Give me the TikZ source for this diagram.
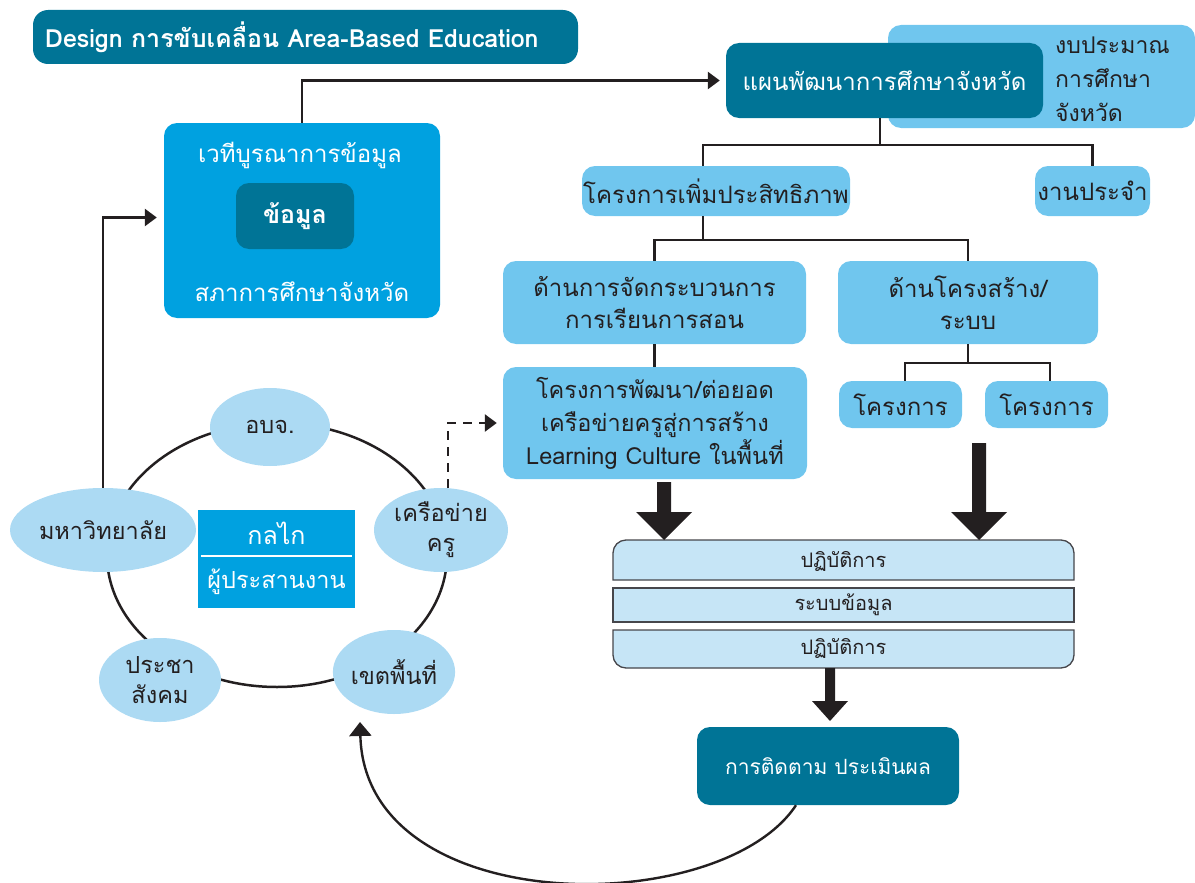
\documentclass[tikz,border=0pt]{standalone}
\usepackage{fontspec}
\setmainfont[Script=Thai]{Loma}
\usetikzlibrary{arrows.meta,calc,shapes.geometric}
\definecolor{cTeal}{RGB}{0,116,150}
\definecolor{cBlue}{RGB}{0,161,224}
\definecolor{cLight}{RGB}{112,198,238}
\definecolor{cEll}{RGB}{172,218,243}
\definecolor{cPale}{RGB}{198,229,246}
\definecolor{cInk}{RGB}{35,31,32}
\definecolor{cGray}{RGB}{70,70,75}
\newcommand{\fsz}[1]{\fontsize{#1}{#1}\selectfont}
\begin{document}
\begin{tikzpicture}[x=1pt,y=-1pt,
  box/.style={rectangle, rounded corners=13pt, inner sep=0pt, align=center, font=\fontsize{24}{32}\selectfont},
  lbox/.style={box, fill=cLight, text=cInk},
  dbox/.style={box, fill=cTeal, text=white},
  ell/.style={ellipse, fill=cEll, text=cInk, inner sep=0pt, align=center, font=\fontsize{23.5}{30}\selectfont},
  conn/.style={draw=cInk, line width=2.6pt},
  tip/.style={-{Triangle[width=17pt,length=12pt]}},
  rowst/.style={fill=cPale, draw=cGray, line width=1.3pt},
  txt/.style={inner sep=0pt, align=center, font=\fontsize{24}{32}\selectfont}
]
\useasboundingbox (0,0) rectangle (1195,883);

% title
\node[dbox, rounded corners=15pt, minimum width=545pt, minimum height=54pt,
      text width=521pt, align=left, font=\fsz{25}\bfseries] (title) at (305.5,37) {Design การขับเคลื่อน Area-Based Education};

% data forum
\node[box, fill=cBlue, minimum width=276pt, minimum height=195pt] (data) at (302,220.5) {};
\node[txt, text=white] (dtop) at (300,155) {เวทีบูรณาการข้อมูล};
\node[dbox, minimum width=118pt, minimum height=66pt, font=\fsz{25}\bfseries] (dinner) at (295,216) {ข้อมูล};
\node[txt, text=white] (dbot) at (302,292) {สภาการศึกษาจังหวัด};

% budget and plan
\node[lbox, minimum width=307pt, minimum height=103pt] (budget) at (1041.5,76.5) {};
\node[txt, anchor=west, align=left, text=cInk, font=\fontsize{23}{34}\selectfont] (budtxt) at (1055,79) {งบประมาณ\\การศึกษา\\จังหวัด};
\node[dbox, minimum width=317pt, minimum height=75pt] (plan) at (884.5,80.5) {แผนพัฒนาการศึกษาจังหวัด};

% hierarchy
\node[lbox, minimum width=268pt, minimum height=50pt] (eff) at (716,191) {โครงการเพิ่มประสิทธิภาพ};
\node[lbox, minimum width=115pt, minimum height=50pt] (routine) at (1092.5,191) {งานประจำ};
\node[lbox, minimum width=303pt, minimum height=83pt] (learn) at (654.5,302.5) {ด้านการจัดกระบวนการ\\การเรียนการสอน};
\node[lbox, minimum width=260pt, minimum height=83pt] (struct) at (968,302.5) {ด้านโครงสร้าง/\\ระบบ};
\node[lbox, minimum width=304pt, minimum height=112pt, font=\fontsize{23.5}{33}\selectfont] (proj) at (655,423) {โครงการพัฒนา/ต่อยอด\\เครือข่ายครูสู่การสร้าง\\Learning Culture ในพื้นที่};
\node[lbox, minimum width=123pt, minimum height=47pt] (p1) at (900.5,404.5) {โครงการ};
\node[lbox, minimum width=123pt, minimum height=47pt] (p2) at (1046.5,404.5) {โครงการ};

\coordinate (plansplit) at (880,145);
\coordinate (effsplit) at (703,240);
\coordinate (structsplit) at (968,363);
\draw[conn] (plansplit |- plan.south) -- (plansplit);
\draw[conn] (plansplit) -| (703,166);
\draw[conn] (plansplit) -| (routine.north);
\draw[conn] (effsplit |- eff.south) -- (effsplit);
\draw[conn] (effsplit) -| (learn.north);
\draw[conn] (effsplit) -| (struct.north);
\draw[conn] (learn.south) -- (learn.south |- proj.north);
\draw[conn] (struct.south) -- (structsplit);
\draw[conn] (structsplit) -| (905,381);
\draw[conn] (structsplit) -| (1050,381);

% stack
\draw[rowst] (613,580) [rounded corners=13pt] -- (613,540) -- (1074,540) [sharp corners] -- (1074,580) -- cycle;
\draw[rowst] (613,588) rectangle (1074,622);
\draw[rowst] (613,630) -- (1074,630) [rounded corners=13pt] -- (1074,668) -- (613,668) [sharp corners] -- cycle;
\node[txt, text=cInk, font=\fsz{20}] (row1) at (843.5,561) {ปฏิบัติการ};
\node[txt, text=cInk, font=\fsz{20}] (row2) at (843.5,605) {ระบบข้อมูล};
\node[txt, text=cInk, font=\fsz{20}] (row3) at (843.5,648) {ปฏิบัติการ};

% big arrows
\coordinate (la) at (664,482); \coordinate (lt) at (664,540);
\coordinate (ra) at (979,443); \coordinate (rt) at (979,540);
\coordinate (sa) at (830,668); \coordinate (st) at (830,721);
\fill[cInk] ($(la)+(-7,0)$) -- ($(lt)+(-7,-28)$) -- ($(lt)+(-28,-28)$) -- (lt) -- ($(lt)+(28,-28)$) -- ($(lt)+(7,-28)$) -- ($(la)+(7,0)$) -- cycle;
\fill[cInk] ($(ra)+(-7,0)$) -- ($(rt)+(-7,-28)$) -- ($(rt)+(-28,-28)$) -- (rt) -- ($(rt)+(28,-28)$) -- ($(rt)+(7,-28)$) -- ($(ra)+(7,0)$) -- cycle;
\fill[cInk] ($(sa)+(-5,0)$) -- ($(st)+(-5,-20)$) -- ($(st)+(-18,-20)$) -- (st) -- ($(st)+(18,-20)$) -- ($(st)+(5,-20)$) -- ($(sa)+(5,0)$) -- cycle;

% follow-up
\node[dbox, minimum width=262pt, minimum height=78pt, font=\fsz{21}] (fol) at (828,766) {การติดตาม ประเมินผล};

% circle of partners
\draw[draw=cInk, line width=2.5pt] (277,555) ellipse [x radius=170pt, y radius=132pt];
\node[ell, minimum width=120pt, minimum height=78pt] (obj) at (270,427) {อบจ.};
\node[ell, minimum width=186pt, minimum height=84pt] (uni) at (103,530) {มหาวิทยาลัย};
\node[ell, minimum width=134pt, minimum height=84pt, font=\fontsize{23.5}{30}\selectfont] (kru) at (441,530) {เครือข่าย\\ครู};
\node[ell, minimum width=122pt, minimum height=84pt, font=\fontsize{23.5}{30}\selectfont] (civ) at (160,680) {ประชา\\สังคม};
\node[ell, minimum width=122pt, minimum height=84pt] (area) at (394,672) {เขตพื้นที่};

\node[rectangle, fill=cBlue, minimum width=157pt, minimum height=98pt, inner sep=0pt] (mech) at (276.5,559) {};
\draw[white, line width=2.5pt] ($(mech.west)+(3,-3)$) -- ($(mech.east)+(-3,-3)$);
\node[txt, text=white, font=\fsz{25}] (mech1) at (276.5,533) {กลไก};
\node[txt, text=white, font=\fsz{23.5}] (mech2) at (276.5,582) {ผู้ประสานงาน};

% connectors
\draw[conn, tip, shorten >=6pt] (data.north) |- (plan.west);
\draw[conn, tip, shorten >=7pt] (uni.north) |- ($(data.west)+(0,-3)$);
\draw[conn, tip, dash pattern=on 9pt off 7pt, shorten >=6pt] ($(kru.north)+(7,0)$) |- ($(proj.west)+(0,0)$);
\coordinate (cstart) at ($(fol.south)+(-32,0)$);
\coordinate (cend) at (360,722);
\draw[conn, line width=2.4pt, -{Triangle[width=22pt,length=14pt]}] (cstart) .. controls (720,920) and (365,920) .. (cend);
\end{tikzpicture}
\end{document}
